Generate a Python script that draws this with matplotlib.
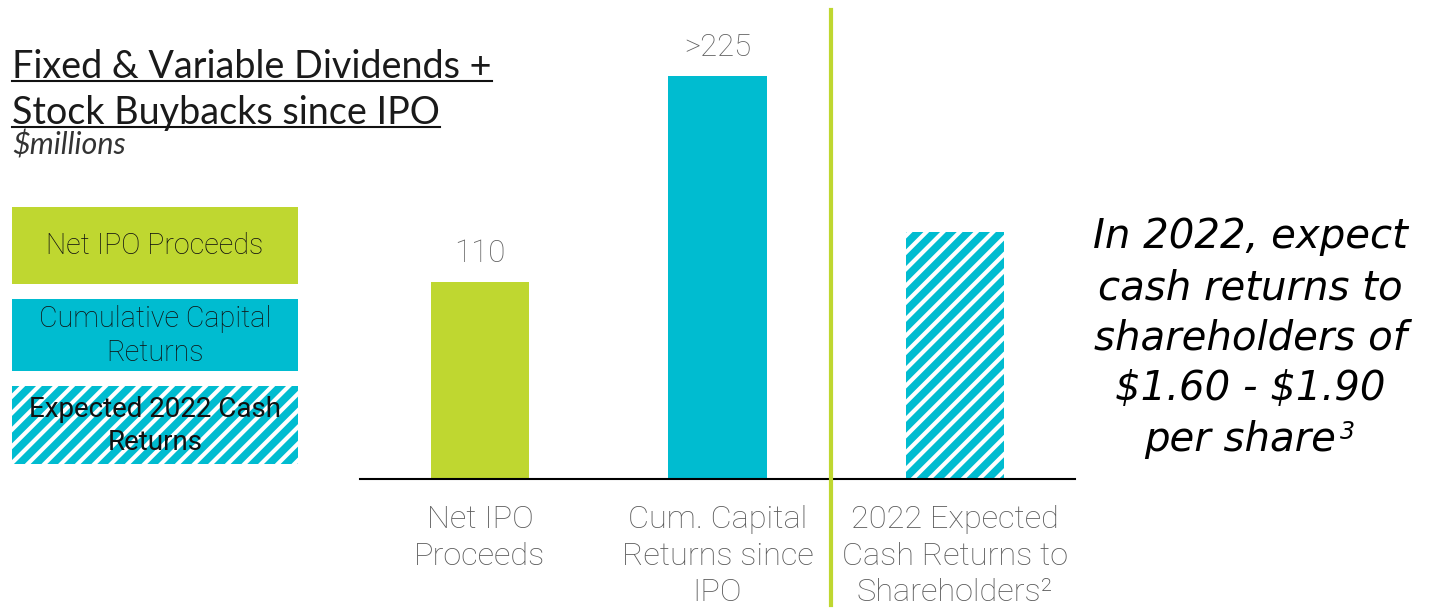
import matplotlib
matplotlib.use('Agg')
import matplotlib.pyplot as plt
from matplotlib.lines import Line2D
from matplotlib.patches import Rectangle

# ---------------- data ----------------
categories = ["Net IPO\nProceeds", "Cum. Capital\nReturns since\nIPO", "2022 Expected\nCash Returns to\nShareholders\u00b2"]
values = [110, 225, 138]
value_labels = ["110", ">225", ""]
legend_labels = ["Net IPO Proceeds", "Cumulative Capital\nReturns", "Expected 2022 Cash\nReturns"]
title_lines = ["Fixed & Variable Dividends +", "Stock Buybacks since IPO"]
subtitle = "$millions"
callout_lines = ["In 2022, expect", "cash returns to", "shareholders of", "$1.60 - $1.90", "per share"]
callout_note = "3"

GREEN = '#BFD730'
CYAN = '#00BCD0'
GRAY = '#5a5a5a'
DARK = '#111111'

W, H = 1432, 608
fig = plt.figure(figsize=(W / 100, H / 100), dpi=100)
fig.patch.set_facecolor('white')
plt.rcParams['hatch.linewidth'] = 5.5


def fx(px):
    return px / W


def fy(py):
    return 1 - py / H


TICK_FS = 23.4

# ---------------- bar axes ----------------
ax = fig.add_axes([fx(360), fy(479), fx(1075) - fx(360), fy(0) - fy(479)])
xpos = list(range(len(values)))
bars = ax.bar(xpos, values, width=0.413, color=[GREEN, CYAN, 'white'], linewidth=0)
bars[2].set_edgecolor(CYAN)
bars[2].set_hatch('//')
ax.set_xlim(-0.505, 2.505)
ax.set_ylim(0, 267.6)
for s in ['top', 'right', 'left']:
    ax.spines[s].set_visible(False)
ax.spines['bottom'].set_color('black')
ax.spines['bottom'].set_linewidth(1.5)
ax.set_yticks([])
ax.set_xticks(xpos)
ax.set_xticklabels(categories, fontsize=TICK_FS, color=GRAY, family='Roboto', weight='light', linespacing=1.31)
ax.tick_params(axis='x', length=0, pad=19)
ax.patch.set_alpha(0)

for i, (v, lbl) in enumerate(zip(values, value_labels)):
    if lbl:
        ax.annotate(lbl, (i, v), xytext=(0, 14.5), textcoords='offset points', ha='center', va='baseline',
                    fontsize=22.5, color='#606060', family='Roboto', weight='light')

# vertical separator
fig.add_artist(Line2D([fx(831), fx(831)], [fy(10), fy(605)], color=GREEN, lw=3))

# ---------------- title ----------------
title_texts = []
for line, base in zip(title_lines, [78, 124]):
    t = fig.text(fx(12), fy(base), line, fontsize=27.2, family='Lato', weight='normal', color='#1a1a1a',
                 ha='left', va='baseline')
    title_texts.append((t, base))
fig.text(fx(12), fy(155), subtitle, fontsize=22, family='Lato', weight='normal', style='italic',
         color='#333333', ha='left', va='baseline', parse_math=False)

# ---------------- legend boxes ----------------
boxes = [(207, 284), (299, 371), (386, 464)]
box_fc = [GREEN, CYAN, 'white']
box_fs = [20.6, 20.6, 20]
for k, ((top, bot), lbl) in enumerate(zip(boxes, legend_labels)):
    r = Rectangle((fx(12), fy(bot)), fx(298) - fx(12), fy(top) - fy(bot), transform=fig.transFigure,
                  facecolor=box_fc[k], edgecolor=CYAN if k == 2 else 'none', linewidth=0,
                  hatch='//' if k == 2 else None)
    fig.add_artist(r)
    fig.text(fx(155), fy((top + bot) / 2 + 1), lbl, fontsize=box_fs[k], family='Roboto',
             weight='normal' if k == 2 else 'light', color='#111111', ha='center', va='center',
             linespacing=1.3)

# ---------------- callout ----------------
cbases = [248, 299, 350, 400, 451]
call_texts = []
for line, base in zip(callout_lines, cbases):
    t = fig.text(fx(1250), fy(base), line, fontsize=29, family='DejaVu Sans', style='oblique',
                 weight='normal', color='black', ha='center', va='baseline', parse_math=False)
    call_texts.append(t)

fig.canvas.draw()
renderer = fig.canvas.get_renderer()

# underline title lines
for t, base in title_texts:
    bb = t.get_window_extent(renderer)
    fig.add_artist(Line2D([bb.x0 / W, bb.x1 / W], [fy(base + 3), fy(base + 3)], color=DARK, lw=1.5))

# superscript on last callout line
last = call_texts[-1]
bb = last.get_window_extent(renderer)
sup = fig.text(0, fy(cbases[-1] - 12), callout_note, fontsize=17, family='DejaVu Sans', style='oblique',
               color='black', ha='left', va='baseline')
sbb = sup.get_window_extent(renderer)
total = bb.width + 4 + sbb.width
start = 1250 - total / 2
last.set_ha('left')
last.set_x(fx(start))
sup.set_x(fx(start + bb.width + 4))

fig.savefig('out.png', dpi=100, facecolor='white')
